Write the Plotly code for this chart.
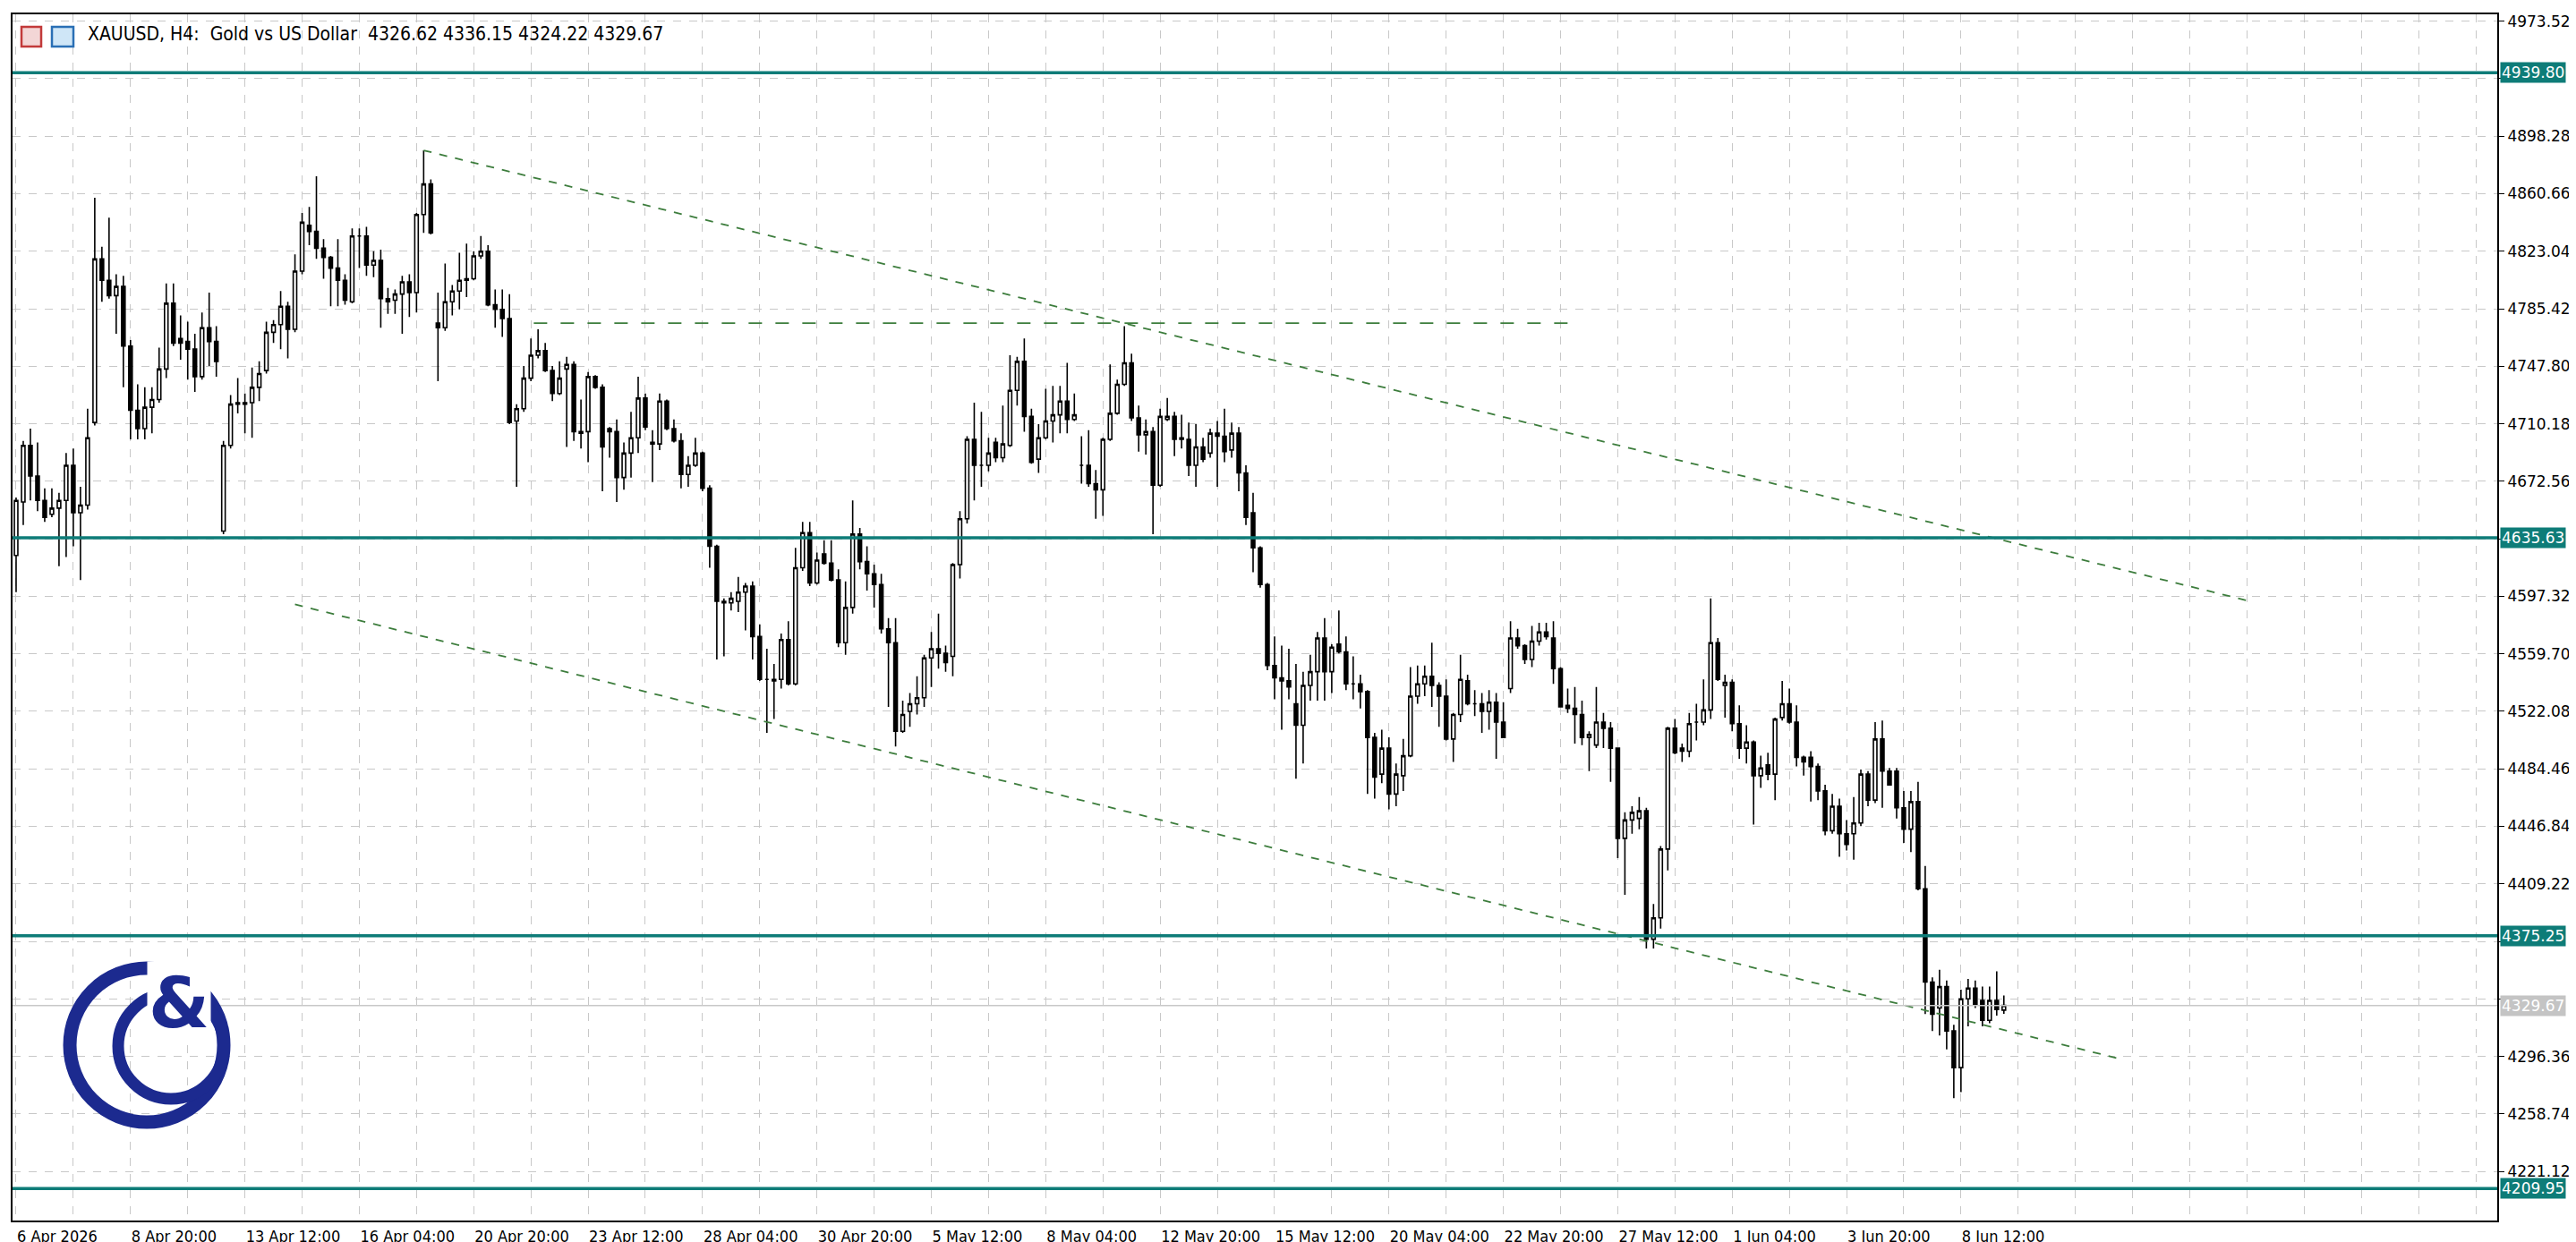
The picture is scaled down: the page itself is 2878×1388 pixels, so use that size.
import plotly.graph_objects as go

# XAUUSD H4 candles (bar index 0 = 6 Apr 2026 04:00)
opens = [
    4624, 4659, 4696, 4676, 4660, 4651, 4655, 4660, 4683, 4652,
    4657, 4711, 4818, 4804, 4794, 4800, 4761, 4719, 4707, 4721,
    4726, 4746, 4789, 4766, 4764, 4759, 4741, 4773, 4764, 4640,
    4696, 4723, 4724, 4724, 4734, 4745, 4770, 4775, 4787, 4772,
    4810, 4840, 4836, 4825, 4819, 4812, 4804, 4790, 4833, 4833,
    4814, 4817, 4792, 4791, 4795, 4803, 4796, 4847, 4867, 4776,
    4773, 4790, 4797, 4804, 4805, 4820, 4823, 4788, 4785, 4779,
    4712, 4720, 4740, 4755, 4758, 4745, 4730, 4746, 4749, 4705,
    4705, 4741, 4734, 4707, 4705, 4675, 4691, 4701, 4727, 4698,
    4697, 4725, 4707, 4699, 4677, 4683, 4691, 4668, 4630, 4594,
    4593, 4594, 4600, 4604, 4571, 4543, 4543, 4543, 4569, 4540,
    4616, 4639, 4606, 4625, 4619, 4608, 4567, 4590, 4638, 4620,
    4612, 4605, 4576, 4567, 4509, 4522, 4527, 4531, 4557, 4563,
    4560, 4558, 4618, 4648, 4700, 4683, 4683, 4698, 4688, 4696,
    4732, 4751, 4715, 4687, 4701, 4712, 4716, 4725, 4713, 4683,
    4683, 4671, 4667, 4700, 4717, 4736, 4750, 4714, 4703, 4705,
    4670, 4713, 4715, 4701, 4700, 4683, 4695, 4691, 4704, 4702,
    4693, 4704, 4678, 4652, 4629, 4605, 4552, 4544, 4542, 4527,
    4513, 4539, 4548, 4570, 4548, 4566, 4561, 4540, 4540, 4535,
    4505, 4481, 4498, 4468, 4480, 4493, 4532, 4540, 4545, 4539,
    4532, 4504, 4520, 4542, 4527, 4527, 4522, 4528, 4515, 4537,
    4570, 4565, 4556, 4568, 4574, 4570, 4550, 4526, 4524, 4520,
    4505, 4500, 4515, 4511, 4498, 4439, 4451, 4452, 4457, 4373,
    4387, 4432, 4511, 4498, 4496, 4515, 4515, 4523, 4567, 4539,
    4541, 4514, 4498, 4502, 4480, 4487, 4481, 4518, 4527, 4515,
    4492, 4492, 4486, 4470, 4444, 4460, 4442, 4442, 4449, 4481,
    4464, 4504, 4483, 4483, 4459, 4445, 4463, 4406, 4345, 4328,
    4342, 4313, 4289, 4334, 4341, 4333, 4320, 4333, 4326.62,
]
highs = [
    4662, 4699, 4707, 4698, 4668, 4668, 4665, 4691, 4694, 4669,
    4720, 4858, 4826, 4845, 4808, 4807, 4765, 4736, 4734, 4734,
    4760, 4802, 4802, 4781, 4777, 4769, 4783, 4796, 4774, 4699,
    4729, 4740, 4730, 4747, 4751, 4777, 4778, 4797, 4790, 4821,
    4848, 4852, 4872, 4831, 4820, 4831, 4808, 4838, 4838, 4839,
    4823, 4824, 4799, 4798, 4807, 4808, 4848, 4889, 4870, 4796,
    4815, 4801, 4822, 4828, 4823, 4833, 4827, 4798, 4798, 4795,
    4723, 4748, 4766, 4772, 4763, 4748, 4751, 4754, 4751, 4726,
    4744, 4742, 4736, 4708, 4713, 4698, 4718, 4741, 4730, 4706,
    4730, 4726, 4713, 4704, 4689, 4701, 4692, 4670, 4631, 4596,
    4600, 4610, 4606, 4607, 4579, 4563, 4553, 4573, 4581, 4629,
    4646, 4646, 4626, 4634, 4634, 4615, 4607, 4660, 4642, 4630,
    4618, 4612, 4583, 4583, 4529, 4534, 4545, 4559, 4574, 4586,
    4565, 4619, 4653, 4702, 4724, 4718, 4701, 4701, 4722, 4755,
    4754, 4766, 4720, 4710, 4733, 4735, 4735, 4750, 4730, 4702,
    4706, 4680, 4701, 4749, 4739, 4774, 4756, 4722, 4713, 4708,
    4720, 4727, 4718, 4716, 4711, 4710, 4701, 4707, 4712, 4720,
    4711, 4708, 4683, 4665, 4630, 4606, 4571, 4565, 4563, 4553,
    4548, 4559, 4574, 4583, 4566, 4588, 4571, 4558, 4546, 4536,
    4508, 4510, 4505, 4488, 4504, 4551, 4552, 4552, 4567, 4541,
    4543, 4521, 4559, 4546, 4536, 4534, 4536, 4534, 4528, 4581,
    4576, 4566, 4578, 4580, 4580, 4581, 4551, 4537, 4538, 4529,
    4509, 4538, 4521, 4515, 4498, 4456, 4460, 4466, 4459, 4396,
    4434, 4512, 4517, 4501, 4521, 4527, 4543, 4596, 4570, 4546,
    4543, 4526, 4513, 4503, 4493, 4495, 4518, 4542, 4537, 4526,
    4493, 4496, 4488, 4474, 4468, 4465, 4451, 4466, 4484, 4483,
    4515, 4516, 4485, 4485, 4470, 4470, 4476, 4421, 4348, 4353,
    4346, 4317, 4340, 4347, 4346, 4342, 4342, 4352, 4336.15,
]
lows = [
    4600, 4644, 4660, 4653, 4646, 4649, 4617, 4623, 4630, 4608,
    4654, 4709, 4790, 4792, 4769, 4734, 4700, 4700, 4700, 4704,
    4724, 4740, 4761, 4752, 4739, 4731, 4739, 4748, 4741, 4638,
    4694, 4717, 4704, 4701, 4725, 4743, 4763, 4759, 4753, 4770,
    4808, 4827, 4818, 4805, 4787, 4787, 4788, 4789, 4812, 4807,
    4806, 4773, 4782, 4782, 4769, 4780, 4783, 4835, 4834, 4738,
    4771, 4781, 4785, 4793, 4804, 4818, 4787, 4773, 4767, 4710,
    4669, 4718, 4738, 4753, 4744, 4725, 4729, 4695, 4699, 4694,
    4685, 4733, 4666, 4688, 4659, 4667, 4675, 4691, 4706, 4672,
    4693, 4706, 4698, 4668, 4669, 4682, 4666, 4616, 4556, 4558,
    4588, 4587, 4575, 4556, 4542, 4508, 4517, 4537, 4539, 4539,
    4614, 4604, 4605, 4618, 4607, 4564, 4559, 4586, 4615, 4601,
    4590, 4573, 4525, 4499, 4508, 4512, 4520, 4525, 4538, 4550,
    4548, 4545, 4609, 4645, 4660, 4669, 4679, 4685, 4685, 4695,
    4722, 4705, 4684, 4678, 4700, 4698, 4704, 4704, 4712, 4671,
    4669, 4648, 4650, 4699, 4716, 4735, 4712, 4692, 4690, 4638,
    4669, 4712, 4689, 4694, 4676, 4669, 4685, 4688, 4669, 4685,
    4688, 4666, 4644, 4613, 4603, 4549, 4530, 4510, 4530, 4478,
    4488, 4529, 4529, 4529, 4534, 4560, 4536, 4530, 4524, 4468,
    4465, 4475, 4458, 4460, 4470, 4492, 4527, 4532, 4525, 4512,
    4503, 4489, 4515, 4526, 4519, 4508, 4510, 4491, 4505, 4534,
    4563, 4553, 4551, 4565, 4569, 4540, 4525, 4521, 4501, 4500,
    4483, 4498, 4498, 4476, 4426, 4402, 4442, 4445, 4367, 4367,
    4380, 4418, 4494, 4489, 4492, 4503, 4513, 4517, 4542, 4518,
    4509, 4491, 4488, 4448, 4472, 4477, 4464, 4516, 4514, 4486,
    4480, 4463, 4464, 4441, 4442, 4427, 4431, 4425, 4447, 4460,
    4462, 4459, 4474, 4452, 4436, 4430, 4405, 4324, 4313, 4310,
    4301, 4269, 4273, 4316, 4328, 4316, 4318, 4323, 4324.22,
]
closes = [
    4660, 4696, 4676, 4660, 4649, 4655, 4660, 4683, 4652, 4657,
    4701, 4818, 4804, 4794, 4800, 4761, 4719, 4707, 4721, 4726,
    4746, 4789, 4763, 4763, 4759, 4741, 4773, 4764, 4751, 4696,
    4723, 4724, 4723, 4734, 4743, 4770, 4775, 4787, 4772, 4810,
    4842, 4836, 4825, 4819, 4812, 4804, 4791, 4833, 4833, 4814,
    4817, 4792, 4790, 4795, 4803, 4796, 4847, 4867, 4835, 4773,
    4790, 4797, 4804, 4805, 4820, 4823, 4788, 4785, 4779, 4711,
    4720, 4740, 4755, 4758, 4745, 4730, 4740, 4749, 4705, 4704,
    4741, 4734, 4695, 4705, 4675, 4691, 4701, 4727, 4708, 4697,
    4725, 4707, 4699, 4677, 4683, 4691, 4668, 4630, 4594, 4593,
    4596, 4600, 4604, 4571, 4543, 4543, 4542, 4569, 4540, 4616,
    4639, 4606, 4621, 4619, 4608, 4567, 4590, 4638, 4620, 4612,
    4605, 4576, 4567, 4509, 4520, 4527, 4531, 4557, 4563, 4560,
    4554, 4618, 4648, 4700, 4683, 4683, 4691, 4688, 4697, 4732,
    4751, 4715, 4685, 4701, 4712, 4716, 4725, 4713, 4716, 4683,
    4671, 4667, 4700, 4717, 4736, 4750, 4714, 4703, 4705, 4670,
    4715, 4715, 4700, 4700, 4683, 4695, 4687, 4704, 4702, 4692,
    4704, 4678, 4649, 4629, 4605, 4552, 4544, 4542, 4538, 4513,
    4539, 4548, 4570, 4548, 4564, 4561, 4540, 4540, 4535, 4505,
    4479, 4498, 4468, 4481, 4493, 4532, 4540, 4545, 4539, 4532,
    4504, 4520, 4543, 4527, 4527, 4522, 4528, 4515, 4505, 4570,
    4565, 4556, 4568, 4574, 4571, 4550, 4525, 4524, 4520, 4505,
    4507, 4515, 4511, 4498, 4439, 4451, 4456, 4457, 4373, 4387,
    4432, 4511, 4495, 4496, 4514, 4515, 4523, 4567, 4543, 4541,
    4514, 4498, 4502, 4480, 4485, 4481, 4517, 4527, 4515, 4492,
    4489, 4486, 4470, 4444, 4460, 4442, 4435, 4449, 4481, 4464,
    4504, 4483, 4474, 4459, 4445, 4463, 4406, 4345, 4324, 4342,
    4313, 4289, 4334, 4341, 4330, 4320, 4333, 4327, 4329.67,
]

# date labels, one every 16 bars
date_labels = [
    "6 Apr 2026", "8 Apr 20:00", "13 Apr 12:00", "16 Apr 04:00", "20 Apr 20:00",
    "23 Apr 12:00", "28 Apr 04:00", "30 Apr 20:00", "5 May 12:00", "8 May 04:00",
    "12 May 20:00", "15 May 12:00", "20 May 04:00", "22 May 20:00", "27 May 12:00",
    "1 Jun 04:00", "3 Jun 20:00", "8 Jun 12:00",
]
price_ticks = [4973.52 - 37.62 * k for k in range(21)]
hidden_ticks = [1, 9, 16, 17]  # covered by the level / price boxes

# support / resistance levels
levels = [4939.80, 4635.63, 4375.25, 4209.95]
last_price = 4329.67

# channel drawings: (bar, price) endpoints
upper_channel = ([57, 312.5], [4889, 4594])
lower_channel = ([39, 294], [4592, 4295])
flat_line = ([72.4, 217], [4776, 4776])

TEAL = "#0e7c78"
GREEN = "#3d7d3d"
NAVY = "#1c2a8f"
AXFONT = dict(size=17, family="DejaVu Sans", color="black")

n = len(closes)
x = list(range(n))

fig = go.Figure()
fig.add_trace(go.Candlestick(
    x=x, open=opens, high=highs, low=lows, close=closes,
    increasing=dict(fillcolor="white", line=dict(color="black", width=1.6)),
    decreasing=dict(fillcolor="black", line=dict(color="black", width=1.6)),
    whiskerwidth=0, showlegend=False, hoverinfo="skip",
))

for xs, ys, dash in [(upper_channel[0], upper_channel[1], "dash"),
                     (lower_channel[0], lower_channel[1], "dash"),
                     (flat_line[0], flat_line[1], "longdash")]:
    fig.add_trace(go.Scatter(x=xs, y=ys, mode="lines", showlegend=False,
                             line=dict(color=GREEN, width=1.8, dash=dash),
                             hoverinfo="skip"))

for lv in levels:
    fig.add_hline(y=lv, line=dict(color=TEAL, width=3.5))
    fig.add_annotation(x=1, xref="paper", y=lv, yref="y", text=f"{lv:.2f}",
                       xanchor="left", yanchor="middle", showarrow=False,
                       bgcolor=TEAL, font=dict(AXFONT, color="white"),
                       borderpad=1, xshift=3)
fig.add_hline(y=last_price, line=dict(color="#c8c8c8", width=1.5))
fig.add_annotation(x=1, xref="paper", y=last_price, yref="y", text=f"{last_price:.2f}",
                   xanchor="left", yanchor="middle", showarrow=False,
                   bgcolor="#c4c4c4", font=dict(AXFONT, color="white"),
                   borderpad=1, xshift=3)

# title line with the two toolbar icons
fig.add_annotation(x=0, xref="paper", y=1, yref="paper", xshift=82, yshift=-8,
                   text="XAUUSD, H4:  Gold vs US Dollar  4326.62 4336.15 4324.22 4329.67",
                   xanchor="left", yanchor="top", showarrow=False,
                   font=dict(size=21, color="black", family="DejaVu Sans Condensed, DejaVu Sans"))
fig.add_shape(type="rect", xref="paper", yref="paper", xsizemode="pixel", ysizemode="pixel",
              xanchor=0, yanchor=1, x0=10, x1=32, y0=-14, y1=-36,
              line=dict(color="#c23a3a", width=2.5), fillcolor="#f3d6d6")
fig.add_shape(type="rect", xref="paper", yref="paper", xsizemode="pixel", ysizemode="pixel",
              xanchor=0, yanchor=1, x0=44, x1=68, y0=-14, y1=-36,
              line=dict(color="#2a6fb5", width=2.5), fillcolor="#cfe6f7")

# logo
fig.add_shape(type="circle", xref="paper", yref="paper", xsizemode="pixel", ysizemode="pixel",
              xanchor=0, yanchor=0, x0=64, x1=236, y0=110, y1=282,
              line=dict(color=NAVY, width=15))
fig.add_shape(type="circle", xref="paper", yref="paper", xsizemode="pixel", ysizemode="pixel",
              xanchor=0, yanchor=0, x0=118, x1=236, y0=136, y1=254,
              line=dict(color=NAVY, width=13))
fig.add_annotation(x=0, xref="paper", y=0, yref="paper", xshift=150, yshift=196,
                   text="<b>&</b>", showarrow=False, font=dict(size=78, color=NAVY,
                   family="DejaVu Sans"), bgcolor="white")

gridcolor = "#c8c8c8"
fig.update_layout(
    width=2878, height=1388,
    margin=dict(l=4, r=96, t=8, b=20),
    plot_bgcolor="white", paper_bgcolor="white",
    xaxis=dict(
        range=[-0.5, 347], rangeslider=dict(visible=False),
        tickvals=[16 * i for i in range(len(date_labels))], ticktext=date_labels,
        ticklabelposition="outside right", ticks="", showgrid=True,
        gridcolor=gridcolor, griddash="dash", gridwidth=1.2,
        minor=dict(dtick=8, tick0=0, showgrid=True, gridcolor=gridcolor, griddash="dash"),
        showline=True, linecolor="black", linewidth=2, mirror=True, zeroline=False,
        tickfont=dict(size=18, family="DejaVu Sans Condensed, DejaVu Sans", color="black"),
    ),
    yaxis=dict(
        side="right", range=[4189, 4978], tickvals=price_ticks,
        ticktext=["" if k in hidden_ticks else f"{v:.2f}" for k, v in enumerate(price_ticks)],
        ticks="outside", ticklen=6,
        tickcolor="black", showgrid=True, gridcolor=gridcolor, griddash="dash",
        gridwidth=1.2, showline=True, linecolor="black", linewidth=2, mirror=True,
        zeroline=False, tickfont=AXFONT,
    ),
)

fig.write_html("out.html")
